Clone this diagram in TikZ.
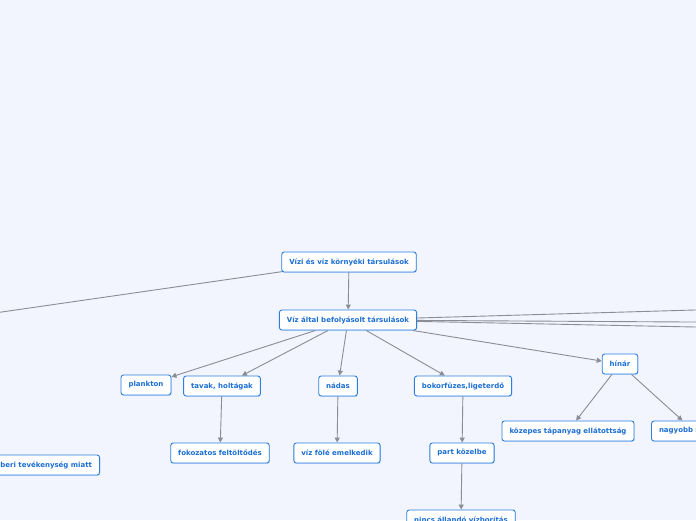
\documentclass[tikz,border=0pt]{standalone}
\usepackage{fontspec}
\setmainfont{DejaVu Sans}
\usepackage{tikz}
\usetikzlibrary{arrows.meta,calc,shadows}
\definecolor{bgblue}{HTML}{F2F5FE}
\definecolor{boxline}{HTML}{2A7FE0}
\definecolor{boxtext}{HTML}{1B6ED3}
\definecolor{linkgray}{HTML}{8A8C96}

\begin{document}
\begin{tikzpicture}[x=1pt,y=-1pt,font=\fontsize{7}{8}\selectfont\bfseries,
    topic/.style={rectangle,rounded corners=2.5pt,draw=boxline,line width=0.9pt,fill=white,
      text=boxtext,minimum height=20pt,inner xsep=7.5pt,inner ysep=0pt,
      drop shadow={shadow xshift=0.6pt,shadow yshift=-0.8pt,fill=boxline,opacity=0.25}},
    arr/.style={-{Triangle[length=5pt,width=5pt]},line width=0.9pt,draw=linkgray}]
\useasboundingbox (0,0) rectangle (696,520);
\fill[bgblue] (0,0) rectangle (696,520);
\clip (0,0) rectangle (696,520);
% links leaving the visible area
\coordinate (offleft) at (-40,318);
\coordinate (offr1) at (740,308.7);
\coordinate (offr2) at (740,322.3);
\coordinate (offr3) at (740,327.9);
\draw[arr] (349,262)--(offleft);
\draw[arr] (348,320)--(offr1);
\draw[arr] (348,320)--(offr2);
\draw[arr] (348,320)--(offr3);
% topics
\node[topic] (root) at (349,262) {Vízi és víz környéki társulások};
\node[topic] (vizaltal) at (348,320) {Víz által befolyásolt társulások};
\node[topic] (plankton) at (146,385) {plankton};
\node[topic] (tavak) at (222,386) {tavak, holtágak};
\node[topic] (nadas) at (338,386) {nádas};
\node[topic] (bokor) at (463,386) {bokorfüzes,ligeterdő};
\node[topic] (hinar) at (620,364) {hínár};
\node[topic] (feltoltodes) at (220,453) {fokozatos feltöltődés};
\node[topic] (vizfole) at (337,453) {víz fölé emelkedik};
\node[topic] (partkoz) at (462,453) {part közelbe};
\node[topic] (kozepes) at (568,431) {közepes tápanyag ellátottság};
\node[topic,text width=70pt,align=left] (nagyobb) at (694,431) {nagyobb m};
\node[topic,anchor=east] (emberi) at (100,465) {emberi tevékenység miatt};
\node[topic] (nincs) at (461,520) {nincs állandó vízborítás};
% links
\draw[arr] (root)--(vizaltal);
\draw[arr] (vizaltal)--(plankton);
\draw[arr] (vizaltal)--(tavak);
\draw[arr] (vizaltal)--(nadas);
\draw[arr] (vizaltal)--(bokor);
\draw[arr] (vizaltal)--(hinar);
\draw[arr] (tavak)--(feltoltodes);
\draw[arr] (nadas)--(vizfole);
\draw[arr] (bokor)--(partkoz);
\draw[arr] (partkoz)--(nincs);
\draw[arr] (hinar)--(kozepes);
\draw[arr] (hinar)--(nagyobb);
\end{tikzpicture}
\end{document}
